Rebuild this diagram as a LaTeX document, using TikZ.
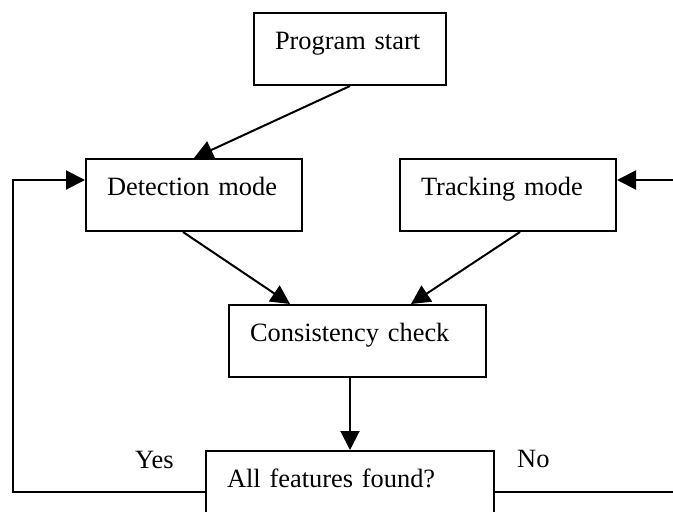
\documentclass[tikz,border=0pt]{standalone}
\usepackage{fontspec}
\setmainfont{Liberation Serif}
\usetikzlibrary{arrows.meta,positioning}
\newcommand{\flowfont}{\fontsize{26.4}{30}\selectfont}
\tikzstyle{stage} = [draw=black, line width=2pt, inner xsep=21pt, inner ysep=0pt, text height=36pt, text depth=36pt, align=left, font=\flowfont]
\tikzstyle{answer} = [font=\flowfont, anchor=base west, inner sep=0pt]
\tikzstyle{arrow} = [line width=2pt,->,>={Triangle[length=19pt,width=19pt]}]
\tikzstyle{link} = [line width=2pt]

\begin{document}
\begin{tikzpicture}[x=1pt,y=-1pt]
	\useasboundingbox (0,0) rectangle (673,512);
	\clip (0,0) rectangle (673,512);
	
	\node[stage, text width=150pt, anchor=north west] (start) at (253,12) {Program start};
	\node[stage, text width=174pt, below=72pt of start.south west, anchor=north west, xshift=-168pt] (det) {Detection mode};
	\node[stage, text width=174pt, right=96pt of det] (trk) {Tracking mode};
	\node[stage, text width=215pt, below=72pt of det.south west, anchor=north west, xshift=143pt] (cons) {Consistency check};
	\node[stage, text width=246pt, below=72pt of cons.south west, anchor=north west, xshift=-23pt] (found) {All features found?};
	
	\node[answer] (yes) at (135,468) {Yes};
	\node[answer] (no) at (517,467) {No};
	
	% loop ends
	\coordinate (lbot) at (13,492);
	\coordinate (ltop) at (13,180);
	\coordinate (rbot) at (673,492);
	\coordinate (rtop) at (673,180);
	
	\draw[arrow] (start.south) -- (det.north);
	\draw[arrow] ([xshift=-11pt]det.south) -- ([xshift=-67.5pt]cons.north);
	\draw[arrow] ([xshift=12pt]trk.south) -- ([xshift=53.5pt]cons.north);
	\draw[arrow] (found.north |- cons.south) -- (found.north);
	\draw[arrow] (found.west |- lbot) -- (lbot) -- (ltop) -- (ltop -| det.west);
	\draw[link] (found.east |- rbot) -- (rbot);
	\draw[arrow] (rtop) -- (rtop -| trk.east);
\end{tikzpicture}
\end{document}
